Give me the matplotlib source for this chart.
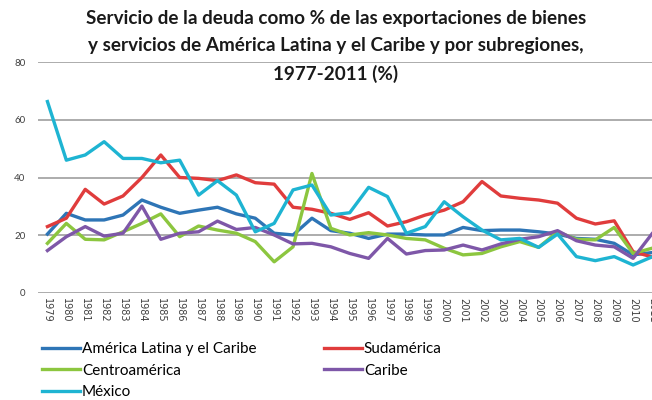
import matplotlib
matplotlib.use("Agg")
import matplotlib.pyplot as plt

years = list(range(1979, 2012))
year_labels = [str(y) for y in years]

america_latina = [20.4, 27.6, 25.3, 25.3, 27.0, 32.2, 29.7, 27.6, 28.7, 29.7, 27.4,
                  25.9, 20.7, 20.1, 25.9, 21.6, 20.7, 18.9, 20.4, 20.4, 20.1, 20.1,
                  22.7, 21.6, 21.8, 21.8, 21.2, 20.4, 18.9, 18.6, 17.2, 13.2, 14.0]
sudamerica = [23.0, 25.9, 35.9, 30.8, 33.6, 40.0, 47.8, 40.0, 39.7, 38.9, 40.9,
              38.2, 37.7, 29.7, 29.0, 27.6, 25.5, 27.8, 23.2, 24.7, 27.0, 28.7,
              31.6, 38.6, 33.6, 32.8, 32.2, 31.1, 25.9, 23.9, 25.0, 14.3, 12.5]
centroamerica = [17.2, 24.1, 18.6, 18.4, 21.2, 24.1, 27.4, 19.5, 23.2, 21.8, 20.7,
                 17.8, 10.8, 16.0, 41.4, 22.4, 20.1, 20.9, 20.1, 18.9, 18.4, 15.5,
                 13.2, 13.7, 16.0, 17.8, 15.8, 21.2, 18.6, 18.4, 22.7, 13.7, 15.5]
caribe = [14.7, 19.5, 23.0, 19.7, 20.7, 30.1, 18.6, 20.7, 21.2, 24.9, 22.0,
          22.7, 20.1, 17.0, 17.2, 16.0, 13.7, 12.0, 18.9, 13.5, 14.7, 14.9,
          16.6, 14.9, 17.0, 18.6, 19.5, 21.6, 18.1, 16.6, 16.0, 12.0, 20.5]
mexico = [66.3, 46.0, 47.8, 52.4, 46.6, 46.6, 45.1, 46.0, 33.9, 38.9, 33.9,
          21.2, 24.1, 35.7, 37.4, 27.0, 27.8, 36.6, 33.4, 20.7, 23.0, 31.6,
          26.4, 21.8, 18.4, 18.9, 15.8, 20.4, 12.6, 11.2, 12.6, 9.7, 12.5]

series = [
    ("América Latina y el Caribe", america_latina, "#2e75b6"),
    ("Sudamérica", sudamerica, "#e03c3c"),
    ("Centroamérica", centroamerica, "#8cc63f"),
    ("Caribe", caribe, "#7e57a8"),
    ("México", mexico, "#1eb4d2"),
]

plt.rcParams['font.family'] = ['Lato', 'DejaVu Sans']

fig = plt.figure(figsize=(6.52, 4.0), dpi=100)
ax = fig.add_axes([38 / 652, 1 - 293 / 400, 1 - 38 / 652, (293 - 62) / 400])

lines = {}
for name, vals, col in series:
    ln, = ax.plot(years, vals, color=col, lw=2.4, label=name)
    lines[name] = ln

ax.set_xlim(1978.5, 2010.79)
ax.set_ylim(0, 80)
ax.set_yticks([0, 20, 40, 60, 80])
ax.yaxis.grid(True, color="#a6a6a6", lw=1.3)
ax.set_axisbelow(True)
for s in ax.spines.values():
    s.set_visible(False)
ax.tick_params(axis='both', length=0, labelsize=7, colors="#404040")
ax.tick_params(axis='y', pad=9)
ax.set_xticks(years)
# the reference crops the last label at the right edge as well
ax.set_xticklabels(year_labels, rotation=-90, fontsize=7, family='DejaVu Sans')

title = ("Servicio de la deuda como % de las exportaciones de bienes\n"
         "y servicios de América Latina y el Caribe y por subregiones,\n"
         "1977-2011 (%)")
fig.text(336 / 652, 1 - 10 / 400, title, ha='center', va='top', fontsize=13.6,
         fontweight='bold', color="#1a1a1a", linespacing=1.72)

order = ["América Latina y el Caribe", "Centroamérica", "México", "Sudamérica", "Caribe"]
fig.legend([lines[n] for n in order], order, ncol=2, loc='upper left',
           bbox_to_anchor=(42 / 652, 1 - 342 / 400), frameon=False, fontsize=11,
           handlelength=2.5, handletextpad=0.12, columnspacing=4.4,
           labelspacing=0.5, borderaxespad=0, borderpad=0)

fig.savefig("out.png", dpi=100)
